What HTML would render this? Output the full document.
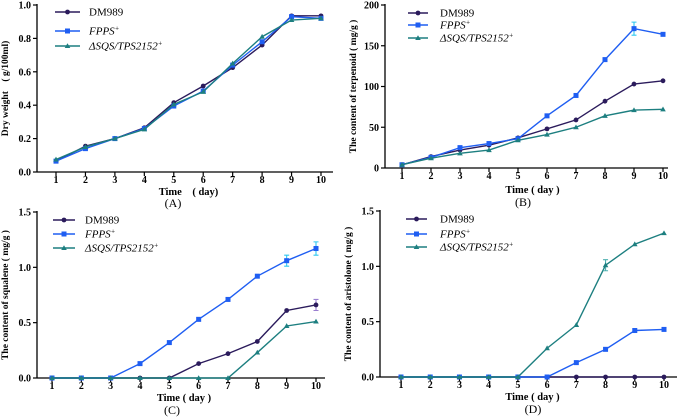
<!DOCTYPE html>
<html><head><meta charset="utf-8"><style>
html,body{margin:0;padding:0;background:#fff}
svg{display:block;font-family:"Liberation Serif",serif}
</style></head><body>
<svg id="fig" width="678" height="417" viewBox="0 0 678 417" xmlns="http://www.w3.org/2000/svg"></svg>
<script>
const days = [1,2,3,4,5,6,7,8,9,10];
const seriesNames = ["DM989","FPPS","SQS"];
const aDM = [0.065,0.155,0.2,0.265,0.415,0.515,0.625,0.76,0.935,0.935];
const aFPPS = [0.065,0.14,0.2,0.26,0.395,0.485,0.64,0.78,0.93,0.92];
const aSQS = [0.075,0.15,0.2,0.255,0.405,0.48,0.65,0.81,0.91,0.92];
const bDM = [4,14,22,28,37,48,59,82,103,107];
const bFPPS = [4,13,25,30,36,64,89,133,171,164];
const bSQS = [4,12,18,22,34,41,50,64,71,72];
const cDM = [0,0,0,0,0,0.13,0.22,0.33,0.61,0.66];
const cFPPS = [0,0,0,0.13,0.32,0.53,0.71,0.92,1.06,1.17];
const cSQS = [0,0,0,0,0,0,0,0.23,0.47,0.51];
const dDM = [0,0,0,0,0,0,0,0,0,0];
const dFPPS = [0,0,0,0,0,0,0.13,0.25,0.42,0.43];
const dSQS = [0,0,0,0,0,0.26,0.47,1.01,1.2,1.3];
const aTicks = ["0.0","0.2","0.4","0.6","0.8","1.0"];
const bTicks = ["0","50","100","150","200"];
const cTicks = ["0.0","0.5","1.0","1.5"];
const dTicks = ["0.0","0.5","1.0","1.5"];
const bErr = [0,0,0,0,0,0,0,0,8,0];
const cErrF = [0,0,0,0,0,0,0,0,0.05,0.06];
const cErrD = [0,0,0,0,0,0,0,0,0,0.05];
const dErrS = [0,0,0,0,0,0,0,0.05,0,0];

const NS="http://www.w3.org/2000/svg";
const svg=document.getElementById('fig');
const colors={DM989:"#2b1b5c",FPPS:"#1f5ef2",SQS:"#1d7f80"};
const errCol={DM989:"#9a7fd0",FPPS:"#2ec8f0",SQS:"#4fb0b0"};
function mk(tag,attrs,parent){const e=document.createElementNS(NS,tag);for(const k in attrs)e.setAttribute(k,attrs[k]);(parent||svg).appendChild(e);return e;}

function panel(p){
  const g=mk('g',{});
  
  
  const ymax=parseFloat(p.ticks[p.ticks.length-1]);
  const X=d=>p.x1+(d-1)*(p.x10-p.x1)/9;
  const Y=v=>p.y0-(v/ymax)*(p.y0-p.ytop);
  const ya=mk('line',{x1:p.ax,y1:p.ytop-1,x2:p.ax,y2:p.y0,stroke:"#000","stroke-width":1.3},g);
  
  const xa=mk('line',{x1:p.ax,y1:p.y0,x2:p.xend,y2:p.y0,stroke:"#000","stroke-width":1.3},g);
  
  p.ticks.forEach(t=>{const yy=Y(parseFloat(t));
    mk('line',{x1:p.ax-4,y1:yy,x2:p.ax,y2:yy,stroke:"#000","stroke-width":1.2},g);
    const tx=mk('text',{x:p.ax-6,y:yy+3.5,"text-anchor":"end","font-size":10,"font-weight":"bold"},g);
    tx.textContent=t;
    
  });
  days.forEach(d=>{const xx=X(d);
    mk('line',{x1:xx,y1:p.y0,x2:xx,y2:p.y0+4,stroke:"#000","stroke-width":1.2},g);
    const tx=mk('text',{x:xx,y:p.tl,"text-anchor":"middle","font-size":10,"font-weight":"bold"},g);
    tx.textContent=d;
    
  });
  const xt=mk('text',{x:(p.x1+p.x10)/2,y:p.tt,"text-anchor":"middle","font-size":10.5,"font-weight":"bold"},g);
  xt.textContent=p.xtitle;
  const pl=mk('text',{x:p.lx,y:p.ly,"text-anchor":"middle","font-size":12},g);
  pl.textContent=p.label;
  const ycx=p.ax-29, ycy=(p.ytop+p.y0)/2;
  const yt=mk('text',{x:ycx,y:ycy,"text-anchor":"middle","font-size":9.5,"font-weight":"bold",transform:`rotate(-90 ${ycx} ${ycy})`},g);
  yt.textContent=p.ytitle;
  p.series.forEach((s,si)=>{
    const name=seriesNames[si], col=colors[name];
    const pts=s.v.map((v,i)=>X(days[i])+','+Y(v)).join(' ');
    const line=mk('polyline',{points:pts,fill:"none",stroke:col,"stroke-width":1.4},g);
    
    
    s.v.forEach((v,i)=>{
      const cx=X(days[i]),cy=Y(v);
      if(s.e&&s.e[i]){const e=s.e[i];
        mk('path',{d:`M${cx},${Y(v+e)}V${Y(v-e)}M${cx-2.5},${Y(v+e)}h5M${cx-2.5},${Y(v-e)}h5`,stroke:errCol[name],"stroke-width":1.1,fill:"none"},g);}
      let m;
      if(name==="DM989") m=mk('circle',{cx,cy,r:2.4,fill:col},g);
      else if(name==="FPPS") m=mk('rect',{x:cx-2.5,y:cy-2.5,width:5,height:5,fill:col},g);
      else m=mk('path',{d:`M${cx},${cy-2.8}L${cx+2.8},${cy+2}L${cx-2.8},${cy+2}Z`,fill:col},g);
      
      
    });
  });
  const lg=mk('g',{},g);
  const labels=["DM989","FPPS","ΔSQS/TPS2152"];
  seriesNames.forEach((name,i)=>{
    const yy=p.legY[i],col=colors[name],cx=(p.legX1+p.legX2)/2;
    const e=mk('g',{},lg);
    mk('line',{x1:p.legX1,y1:yy,x2:p.legX2,y2:yy,stroke:col,"stroke-width":1.4},e);
    if(name==="DM989") mk('circle',{cx,cy:yy,r:2.4,fill:col},e);
    else if(name==="FPPS") mk('rect',{x:cx-2.5,y:yy-2.5,width:5,height:5,fill:col},e);
    else mk('path',{d:`M${cx},${yy-2.8}L${cx+2.8},${yy+2}L${cx-2.8},${yy+2}Z`,fill:col},e);
    const t=mk('text',{x:p.legT,y:yy+3.5,"font-size":11,"font-style":i?"italic":"normal"},e);
    t.textContent=labels[i];
    if(i){const sp=mk('tspan',{"font-size":7,dy:-4},t);sp.textContent="+";}
  });
}
panel({id:"a",label:"(A)",ax:37,ytop:5,y0:172,x1:56,x10:321,xend:333,tl:183,tt:195,lx:173,ly:207,
  ticks:aTicks,xtitle:"Time\u3000( day)",ytitle:"Dry weight\u3000( g/100ml)",
  series:[{v:aDM},{v:aFPPS},{v:aSQS}],legX1:55,legX2:80,legT:89,legY:[12,31,46]});
panel({id:"b",label:"(B)",ax:385,ytop:5,y0:168,x1:402,x10:663,xend:668,tl:179,tt:193,lx:523,ly:206,
  ticks:bTicks,xtitle:"Time ( day )",ytitle:"The content of terpenoid ( mg/g )",
  series:[{v:bDM},{v:bFPPS,e:bErr},{v:bSQS}],legX1:408,legX2:428,legT:440,legY:[13,25,38]});
panel({id:"c",label:"(C)",ax:37,ytop:212,y0:378,x1:52,x10:316,xend:325,tl:389,tt:401,lx:172,ly:414,
  ticks:cTicks,xtitle:"Time ( day )",ytitle:"The content of squalene ( mg/g )",
  series:[{v:cDM,e:cErrD},{v:cFPPS,e:cErrF},{v:cSQS}],legX1:53,legX2:75,legT:85,legY:[220,234,248]});
panel({id:"d",label:"(D)",ax:380,ytop:211,y0:377,x1:401,x10:664,xend:677,tl:388,tt:400,lx:533,ly:413,
  ticks:dTicks,xtitle:"Time ( day )",ytitle:"The content of aristolone ( mg/g )",
  series:[{v:dDM},{v:dFPPS},{v:dSQS,e:dErrS}],legX1:406,legX2:427,legT:440,legY:[219,234,247]});
</script>
</body></html>
